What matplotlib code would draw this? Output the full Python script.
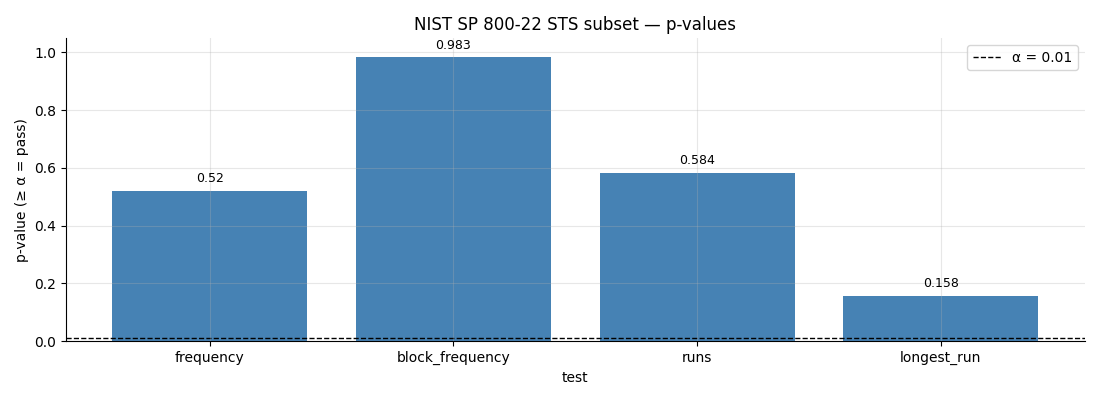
import numpy as np
import matplotlib.pyplot as plt

# p-values from the STS subset
tests = ['frequency', 'block_frequency', 'runs', 'longest_run']
p_values = [0.52, 0.983, 0.584, 0.158]
alpha = 0.01

fig, ax = plt.subplots(figsize=(11, 4), dpi=100)
fig.subplots_adjust(left=0.06, right=0.986, top=0.905, bottom=0.147)

x = np.arange(len(tests))
bars = ax.bar(x, p_values, width=0.8, color='steelblue')
ax.bar_label(bars, labels=[str(v) for v in p_values], padding=4, fontsize=9)

ax.axhline(alpha, color='black', linestyle='--', linewidth=1, label='α = 0.01')

ax.set_xticks(x)
ax.set_xticklabels(tests)
ax.set_ylim(0, 1.05)
ax.set_xlabel('test')
ax.set_ylabel('p-value (≥ α = pass)')
ax.set_title('NIST SP 800-22 STS subset — p-values')

# grid sits on top of the bars in the original
ax.set_axisbelow(False)
ax.grid(True, alpha=0.3, linewidth=0.8)
ax.spines['top'].set_visible(False)
ax.spines['right'].set_visible(False)
ax.legend(loc='upper right')

plt.savefig('out.png')
